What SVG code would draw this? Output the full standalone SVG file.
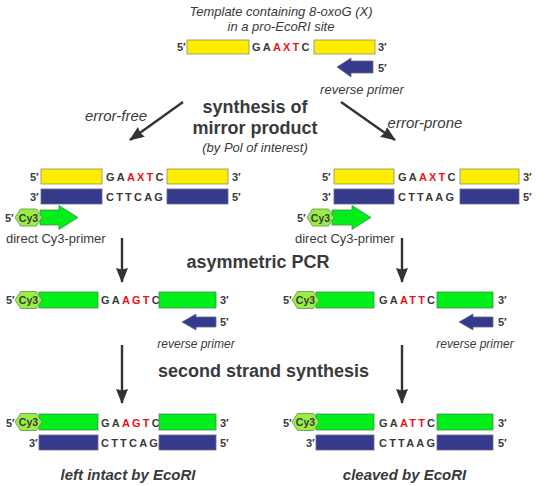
<svg xmlns="http://www.w3.org/2000/svg" width="550" height="486" viewBox="0 0 550 486">
<defs>
<style>
.t{font-family:"Liberation Sans",Arial,sans-serif;fill:#3a3a3a}
.it{font-style:italic}
.b{font-weight:bold}
.end{font-family:"Liberation Sans",Arial,sans-serif;font-weight:bold;font-size:11px;fill:#3a3a3a}
.seq{font-family:"Liberation Sans",Arial,sans-serif;font-weight:bold;font-size:11px;fill:#3a3a3a;letter-spacing:2.2px}
.r{fill:#e8141b}
.yel{fill:#ffed00;stroke:#8a8a70;stroke-width:0.8}
.blu{fill:#363a8c;stroke:#6a6a8a;stroke-width:0.8}
.grn{fill:#00ee1a;stroke:#4a8a4a;stroke-width:0.8}
.hex{fill:#99ee44;stroke:#6a8a5a;stroke-width:0.8}
.cy{font-family:"Liberation Sans",Arial,sans-serif;font-weight:bold;font-size:10.5px;fill:#3a3a3a}
.arr{stroke:#333;stroke-width:2.4;fill:none}
</style>
<marker id="ah" viewBox="0 0 15 12" refX="14" refY="6" markerWidth="15" markerHeight="12" markerUnits="userSpaceOnUse" orient="auto">
<path d="M0,0 L15,6 L0,12 L1.5,6 Z" fill="#333"/>
</marker>
</defs>
<rect width="550" height="486" fill="#fff"/>

<g id="titles">
<text class="t it" x="281" y="16" font-size="13" text-anchor="middle">Template containing 8-oxoG (X)</text>
<text class="t it" x="281" y="31" font-size="13" text-anchor="middle">in a pro-EcoRI site</text>
<text class="t b" x="255" y="113" font-size="18" text-anchor="middle">synthesis of</text>
<text class="t b" x="255" y="134" font-size="18" text-anchor="middle">mirror product</text>
<text class="t it" x="255" y="152" font-size="13" text-anchor="middle">(by Pol of interest)</text>
<text class="t it" x="116" y="121" font-size="15" text-anchor="middle">error-free</text>
<text class="t it" x="425" y="128" font-size="15" text-anchor="middle">error-prone</text>
<text class="t b" x="258" y="268" font-size="18" text-anchor="middle">asymmetric PCR</text>
<text class="t b" x="263.5" y="377" font-size="18" text-anchor="middle">second strand synthesis</text>
<text class="t b it" x="128" y="480" font-size="15" text-anchor="middle">left intact by EcoRI</text>
<text class="t b it" x="404.5" y="480" font-size="15" text-anchor="middle">cleaved by EcoRI</text>
</g>

<g id="connectors">
<line class="arr" x1="183" y1="102" x2="130" y2="140" marker-end="url(#ah)"/>
<line class="arr" x1="341" y1="102" x2="395" y2="140" marker-end="url(#ah)"/>
<line class="arr" x1="122" y1="238" x2="122" y2="282" marker-end="url(#ah)"/>
<line class="arr" x1="402" y1="238" x2="402" y2="282" marker-end="url(#ah)"/>
<line class="arr" x1="122" y1="345" x2="122" y2="403" marker-end="url(#ah)"/>
<line class="arr" x1="402" y1="345" x2="402" y2="403" marker-end="url(#ah)"/>
</g>

<g id="template">
<text class="end" x="177" y="51">5′</text>
<rect class="yel" x="187" y="40" width="62" height="14"/>
<text class="seq" x="252" y="51">GA<tspan class="r">AXT</tspan>C</text>
<rect class="yel" x="314" y="40" width="61" height="14"/>
<text class="end" x="378" y="51">3′</text>
<path class="blu" d="M337,67 L351,58 L351,61 L373,61 L373,73 L351,73 L351,77 Z"/>
<text class="end" x="378" y="72">5′</text>
<text class="t it" x="362" y="94" font-size="13" text-anchor="middle">reverse primer</text>
</g>

<g id="mirror-left">
<text class="end" x="30" y="181">5′</text>
<rect class="yel" x="41" y="169" width="61" height="15"/>
<text class="seq" x="106" y="181">GA<tspan class="r">AXT</tspan>C</text>
<rect class="yel" x="167" y="169" width="61" height="15"/>
<text class="end" x="232" y="181">3′</text>
<text class="end" x="30" y="201">3′</text>
<rect class="blu" x="41" y="189" width="61" height="15"/>
<text class="seq" x="106" y="201">CTTCAG</text>
<rect class="blu" x="167" y="189" width="61" height="15"/>
<text class="end" x="232" y="201">5′</text>
<text class="end" x="5" y="221.5">5′</text>
<path class="grn" d="M40,210 L59,210 L59,205.5 L78,217.5 L59,229.5 L59,225 L40,225 Z"/>
<polygon class="hex" points="15,217.5 20.5,209 36.5,209 42,217.5 36.5,226 20.5,226"/>
<text class="cy" x="28.5" y="221.5" text-anchor="middle">Cy3</text>
<text class="t" x="6" y="243" font-size="13">direct Cy3-primer</text>
</g>

<g id="mirror-right">
<text class="end" x="322" y="181">5′</text>
<rect class="yel" x="334" y="169" width="60" height="15"/>
<text class="seq" x="398" y="181">GA<tspan class="r">AXT</tspan>C</text>
<rect class="yel" x="460" y="169" width="59" height="15"/>
<text class="end" x="523" y="181">3′</text>
<text class="end" x="322" y="201">3′</text>
<rect class="blu" x="334" y="189" width="60" height="15"/>
<text class="seq" x="398" y="201">CTTAAG</text>
<rect class="blu" x="460" y="189" width="59" height="15"/>
<text class="end" x="523" y="201">5′</text>
<text class="end" x="297" y="221.5">5′</text>
<path class="grn" d="M332,210 L352,210 L352,205.5 L371,217.5 L352,229.5 L352,225 L332,225 Z"/>
<polygon class="hex" points="307,217.5 312.5,209 328.5,209 334,217.5 328.5,226 312.5,226"/>
<text class="cy" x="320.5" y="221.5" text-anchor="middle">Cy3</text>
<text class="t" x="295" y="243" font-size="13">direct Cy3-primer</text>
</g>

<g id="pcr-left">
<text class="end" x="6" y="304">5′</text>
<rect class="grn" x="39" y="292" width="59" height="16"/>
<polygon class="hex" points="15,300 20.5,291.5 36.5,291.5 42,300 36.5,308.5 20.5,308.5"/>
<text class="cy" x="28.5" y="304" text-anchor="middle">Cy3</text>
<text class="seq" x="101" y="304">GA<tspan class="r">AGT</tspan>C</text>
<rect class="grn" x="159" y="292" width="57" height="16"/>
<text class="end" x="220" y="304">3′</text>
<path class="blu" d="M182,322 L196,314 L196,317 L216,317 L216,327 L196,327 L196,330 Z"/>
<text class="end" x="220" y="326">5′</text>
<text class="t it" x="196" y="348" font-size="12" text-anchor="middle">reverse primer</text>
</g>

<g id="pcr-right">
<text class="end" x="283" y="304">5′</text>
<rect class="grn" x="316" y="292" width="58" height="16"/>
<polygon class="hex" points="292,300 297.5,291.5 313.5,291.5 319,300 313.5,308.5 297.5,308.5"/>
<text class="cy" x="305.5" y="304" text-anchor="middle">Cy3</text>
<text class="seq" x="379" y="304">GA<tspan class="r">ATT</tspan>C</text>
<rect class="grn" x="437" y="292" width="56" height="16"/>
<text class="end" x="498" y="304">3′</text>
<path class="blu" d="M459,322 L473,314 L473,317 L493,317 L493,327 L473,327 L473,330 Z"/>
<text class="end" x="498" y="326">5′</text>
<text class="t it" x="475" y="348" font-size="12" text-anchor="middle">reverse primer</text>
</g>

<g id="final-left">
<text class="end" x="6" y="426.5">5′</text>
<rect class="grn" x="39" y="414" width="59" height="16"/>
<polygon class="hex" points="15,422 20.5,413.5 36.5,413.5 42,422 36.5,430.5 20.5,430.5"/>
<text class="cy" x="28.5" y="426" text-anchor="middle">Cy3</text>
<text class="seq" x="101" y="426.5">GA<tspan class="r">AGT</tspan>C</text>
<rect class="grn" x="159" y="414" width="57" height="16"/>
<text class="end" x="220" y="426.5">3′</text>
<text class="end" x="29" y="446.5">3′</text>
<rect class="blu" x="39" y="435" width="59" height="15"/>
<text class="seq" x="101" y="446.5">CTTCAG</text>
<rect class="blu" x="159" y="435" width="57" height="15"/>
<text class="end" x="220" y="446.5">5′</text>
</g>

<g id="final-right">
<text class="end" x="283" y="426.5">5′</text>
<rect class="grn" x="316" y="414" width="58" height="16"/>
<polygon class="hex" points="292,422 297.5,413.5 313.5,413.5 319,422 313.5,430.5 297.5,430.5"/>
<text class="cy" x="305.5" y="426" text-anchor="middle">Cy3</text>
<text class="seq" x="379" y="426.5">GA<tspan class="r">ATT</tspan>C</text>
<rect class="grn" x="437" y="414" width="56" height="16"/>
<text class="end" x="498" y="426.5">3′</text>
<text class="end" x="306" y="446.5">3′</text>
<rect class="blu" x="316" y="435" width="58" height="15"/>
<text class="seq" x="379" y="446.5">CTTAAG</text>
<rect class="blu" x="437" y="435" width="56" height="15"/>
<text class="end" x="498" y="446.5">5′</text>
</g>
</svg>
